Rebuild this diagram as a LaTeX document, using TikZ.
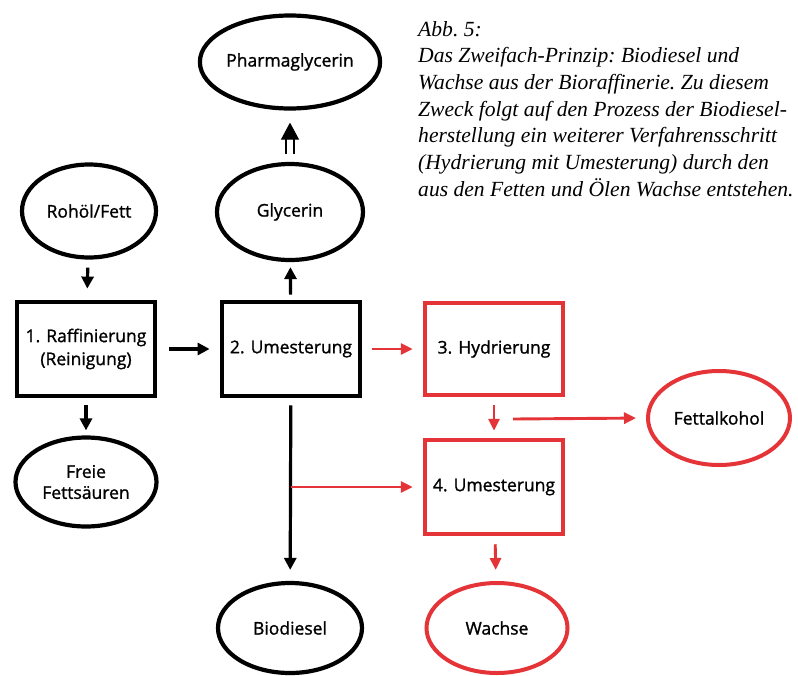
\documentclass[tikz,border=0pt]{standalone}
\usepackage{fontspec}
\setmainfont{Open Sans}[BoldFont={Open Sans}, BoldFeatures={FakeBold=1.2}]
\newfontfamily\capfont{Liberation Serif}
\usetikzlibrary{arrows.meta,shapes.geometric}
\definecolor{fred}{RGB}{228,52,56}
\tikzset{
  ell/.style={ellipse, draw=black, line width=4.2pt, inner sep=0pt, font=\bfseries\fontsize{17.5}{21}\selectfont, align=center},
  rell/.style={ell, draw=fred, line width=4pt},
  pbox/.style={rectangle, draw=black, line width=4.8pt, inner sep=0pt, font=\bfseries\fontsize{17.5}{23}\selectfont, align=center, minimum width=138pt, minimum height=94pt},
  rbox/.style={pbox, draw=fred, line width=4.5pt},
  barr/.style={draw=black, line width=3.2pt, -{Triangle[length=12pt,width=12pt]}},
  rarr/.style={draw=fred, line width=2.9pt, -{Triangle[length=12pt,width=11pt]}},
  dblshaft/.style={draw=black, line width=2.2pt, double=white, double distance=5.5pt},
}
\begin{document}
\begin{tikzpicture}[x=1pt,y=-1pt]
\useasboundingbox[fill=white] (0,0) rectangle (798,675);
% nodes
\node[ell, minimum width=145pt, minimum height=93pt] (pharm) at (290,62) {Pharmaglycerin};
\node[ell, minimum width=146pt, minimum height=96pt] (glyc) at (290,212) {Glycerin};
\node[ell, minimum width=134pt, minimum height=93pt] (rohol) at (89,211) {Rohöl/Fett};
\node[pbox] (box1) at (86,349) {1. Raffinierung\\(Reinigung)};
\node[pbox] (box2) at (291,349) {2. Umesterung};
\node[rbox, minimum height=92pt] (box3) at (494,349) {3. Hydrierung};
\node[rbox] (box4) at (494,487) {4. Umesterung};
\node[ell, minimum width=141pt, minimum height=89pt] (freie) at (86,482) {Freie\\Fettsäuren};
\node[rell, minimum width=142pt, minimum height=94pt] (fett) at (719,418) {Fettalkohol};
\node[ell, minimum width=144pt, minimum height=90pt] (bio) at (290,628) {Biodiesel};
\node[rell, minimum width=141pt, minimum height=90pt] (wachse) at (497,628) {Wachse};
% caption
\node[anchor=north west, inner sep=0pt, align=left, font=\capfont\itshape\fontsize{21.6}{26.7}\selectfont\frenchspacing] (cap) at (418,21)
{Abb. 5:\\Das Zweifach-Prinzip: Biodiesel und\\Wachse aus der Bioraffinerie. Zu diesem\\Zweck folgt auf den Prozess der Biodiesel-\\herstellung ein weiterer Verfahrensschritt\\(Hydrierung mit Umesterung) durch den\\aus den Fetten und Ölen Wachse entstehen.};
% connectors
\draw[barr, shorten <=8pt, shorten >=11pt] (rohol) -- (box1);
\draw[barr, shorten <=12pt, shorten >=10pt] (box1) -- (box2);
\draw[barr, shorten <=7pt, shorten >=5pt] (box1) -- (freie);
\draw[barr, shorten <=5pt, shorten >=5pt] (box2) -- (glyc);
\draw[dblshaft] ([yshift=8pt]glyc.north) -- ([yshift=27pt]glyc.north);
\draw[draw=black, line width=1pt, -{Triangle[length=17pt,width=18pt]}, shorten >=12pt] ([yshift=26pt]glyc.north) -- (pharm.south);
\draw[barr, shorten <=7pt, shorten >=11pt] (box2) -- (bio);
\coordinate (br) at (box2.south |- box4.west);
\draw[rarr, shorten >=10pt] (br) -- (box4.west);
\draw[rarr, shorten <=10pt, shorten >=10pt] (box2) -- (box3);
\draw[rarr, shorten <=8pt, shorten >=7pt] (box3) -- (box4);
\coordinate (fa) at (513,419);
\draw[rarr, shorten >=10pt] (fa) -- (fett.west);
\draw[rarr, shorten <=8pt, shorten >=11pt] (box4) -- (wachse);
\end{tikzpicture}
\end{document}
